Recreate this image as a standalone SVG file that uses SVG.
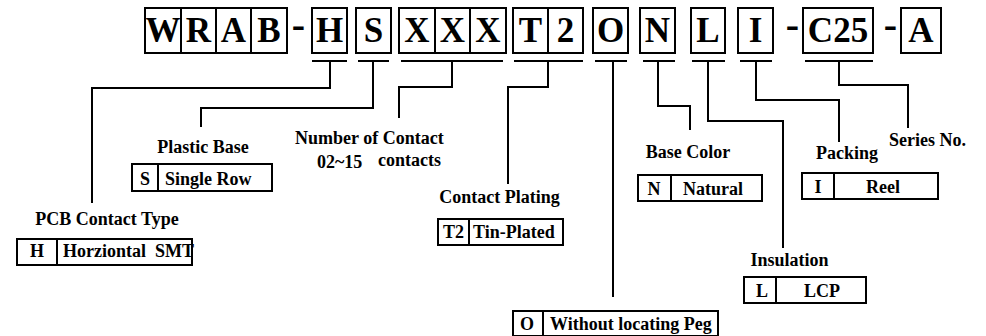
<svg xmlns="http://www.w3.org/2000/svg" width="986" height="336" viewBox="0 0 986 336">
<style>
  .bx{fill:none;stroke:#000;stroke-width:2}
  .ln{fill:none;stroke:#000;stroke-width:2}
  .big{font-family:'Liberation Serif','DejaVu Serif',serif;font-weight:bold;font-size:35px;text-anchor:middle;fill:#000}
  .dash{font-family:'Liberation Serif','DejaVu Serif',serif;font-weight:bold;font-size:40px;text-anchor:middle;fill:#000}
  .t{font-family:'Liberation Serif','DejaVu Serif',serif;font-weight:bold;font-size:18px;fill:#000}
  .c{text-anchor:middle}
</style>
<rect width="986" height="336" fill="#fff"/>
<g id="code">
  <g id="code-wrab">
    <rect class="bx" x="145" y="8" width="142" height="45"/>
    <path class="ln" d="M181 8V53M216 8V53M251 8V53"/>
    <text class="big" x="163" y="42">W</text>
    <text class="big" x="198.5" y="42">R</text>
    <text class="big" x="233.5" y="42">A</text>
    <text class="big" x="269" y="42">B</text>
  </g>
  <text class="dash" x="298.5" y="38">-</text>
  <g id="code-h"><rect class="bx" x="312" y="8" width="35" height="45"/><text class="big" x="329.5" y="42">H</text></g>
  <g id="code-s"><rect class="bx" x="356" y="8" width="35" height="45"/><text class="big" x="373.5" y="42">S</text></g>
  <g id="code-xxx">
    <rect class="bx" x="399" y="8" width="107" height="45"/>
    <path class="ln" d="M435 8V53M470 8V53"/>
    <text class="big" x="417" y="42">X</text>
    <text class="big" x="452.5" y="42">X</text>
    <text class="big" x="488" y="42">X</text>
  </g>
  <g id="code-t2">
    <rect class="bx" x="513" y="8" width="70" height="45"/>
    <path class="ln" d="M548 8V53"/>
    <text class="big" x="530.5" y="42">T</text>
    <text class="big" x="565.5" y="42">2</text>
  </g>
  <g id="code-o"><rect class="bx" x="593" y="8" width="35" height="45"/><text class="big" x="610.5" y="42">O</text></g>
  <g id="code-n"><rect class="bx" x="640" y="8" width="35" height="45"/><text class="big" x="657.5" y="42">N</text></g>
  <g id="code-l"><rect class="bx" x="691" y="8" width="34" height="45"/><text class="big" x="708" y="42">L</text></g>
  <g id="code-i"><rect class="bx" x="738" y="8" width="35" height="45"/><text class="big" x="755.5" y="42">I</text></g>
  <text class="dash" x="792.5" y="38">-</text>
  <g id="code-c25"><rect class="bx" x="803" y="8" width="70" height="45"/><text class="big" x="838" y="42">C25</text></g>
  <text class="dash" x="890.5" y="38">-</text>
  <g id="code-a"><rect class="bx" x="901" y="8" width="40" height="45"/><text class="big" x="921" y="42">A</text></g>
</g>
<g id="connectors">
  <path class="ln" d="M312 61H347M330 61V88H92V203"/>
  <path class="ln" d="M358 61H389M373 61V108H201V127"/>
  <path class="ln" d="M401 61H503M452 61V87H399V118"/>
  <path class="ln" d="M514 61H583M548 61V87H508V184"/>
  <path class="ln" d="M595 61H627M613 61V297"/>
  <path class="ln" d="M643 61H675M658 61V106H690V130"/>
  <path class="ln" d="M692 61H725M708 61V121H783V248"/>
  <path class="ln" d="M740 61H772M756 61V100H839V142"/>
  <path class="ln" d="M805 61H873M839 61V85H908V128"/>
</g>
<g id="pcb-contact-type">
  <text class="t c" x="107" y="225">PCB Contact Type</text>
  <rect class="bx" x="17" y="239" width="175" height="26"/>
  <path class="ln" d="M57 239V265"/>
  <text class="t c" x="37" y="257">H</text>
  <text class="t" x="63" y="257" xml:space="preserve">Horziontal  SMT</text>
</g>
<g id="plastic-base">
  <text class="t c" x="203" y="153">Plastic Base</text>
  <rect class="bx" x="132" y="164" width="140" height="27"/>
  <path class="ln" d="M158 164V191"/>
  <text class="t c" x="145" y="185">S</text>
  <text class="t" x="165" y="185">Single Row</text>
</g>
<g id="number-of-contact">
  <text class="t" x="295" y="144">Number of Contact</text>
  <text class="t" x="317" y="168">02~15</text>
  <text class="t" x="378" y="166">contacts</text>
</g>
<g id="contact-plating">
  <text class="t c" x="499.5" y="203">Contact Plating</text>
  <rect class="bx" x="438" y="219" width="125" height="26"/>
  <path class="ln" d="M469 219V245"/>
  <text class="t" x="443" y="238">T2</text>
  <text class="t" x="473" y="238">Tin-Plated</text>
</g>
<g id="locating-peg">
  <rect class="bx" x="513" y="311" width="205" height="25"/>
  <path class="ln" d="M543 311V336"/>
  <text class="t c" x="527" y="330">O</text>
  <text class="t" x="550" y="330">Without locating Peg</text>
</g>
<g id="base-color">
  <text class="t c" x="688" y="158">Base Color</text>
  <rect class="bx" x="638" y="175" width="124" height="26"/>
  <path class="ln" d="M671 175V201"/>
  <text class="t c" x="654" y="195">N</text>
  <text class="t c" x="713" y="195">Natural</text>
</g>
<g id="insulation">
  <text class="t c" x="789.5" y="266">Insulation</text>
  <rect class="bx" x="744" y="277" width="122" height="26"/>
  <path class="ln" d="M776 277V303"/>
  <text class="t c" x="762" y="297">L</text>
  <text class="t c" x="822" y="297">LCP</text>
</g>
<g id="packing">
  <text class="t c" x="847" y="159">Packing</text>
  <rect class="bx" x="802" y="173" width="136" height="26"/>
  <path class="ln" d="M834 173V199"/>
  <text class="t c" x="818" y="193">I</text>
  <text class="t c" x="883" y="193">Reel</text>
</g>
<g id="series-no">
  <text class="t c" x="927.5" y="146">Series No.</text>
</g>
</svg>
